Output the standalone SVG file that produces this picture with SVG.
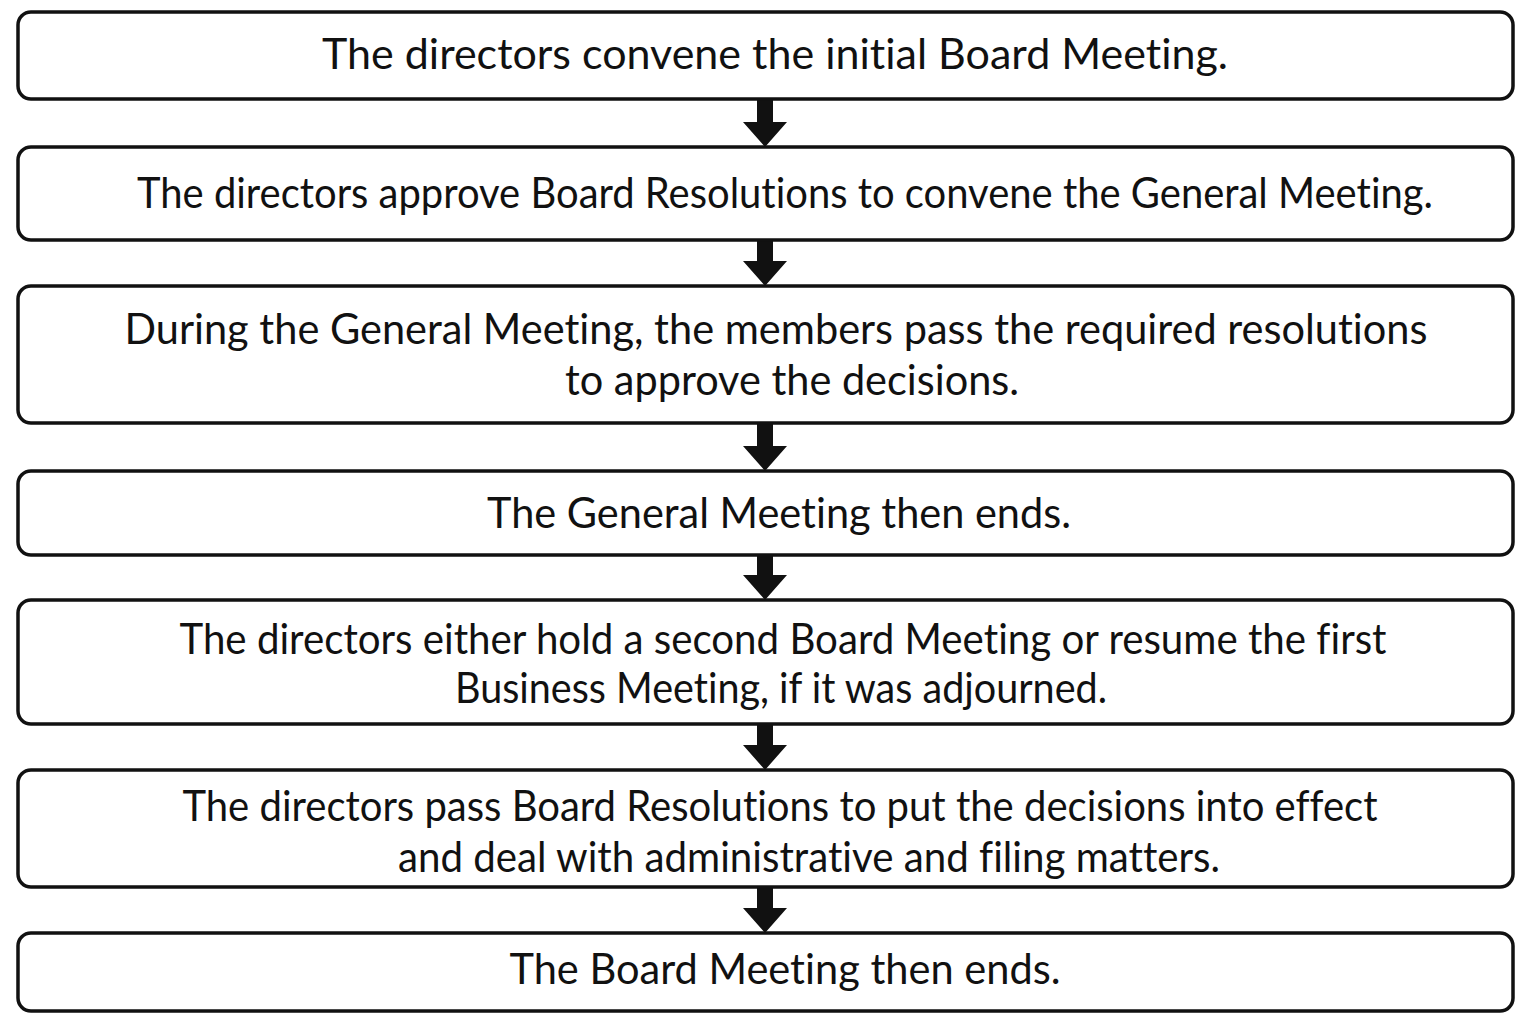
<svg xmlns="http://www.w3.org/2000/svg" width="1532" height="1024" viewBox="0 0 1532 1024">
<style>
.box{fill:#fff;stroke:#111;stroke-width:3.5}
.t{font-family:Lato,"Noto Sans",sans-serif;font-size:42px;fill:#111;text-anchor:middle;font-variant-ligatures:none;font-feature-settings:"liga" 0,"clig" 0,"dlig" 0}
.arr{fill:#111;stroke:none}
</style>
<rect x="0" y="0" width="1532" height="1024" fill="#fff"/>
<g id="connectors">
<path class="arr" d="M757,99 H773 V122 H787 L765,147 L743,122 H757 Z"/>
<path class="arr" d="M757,240 H773 V261 H787 L765,286 L743,261 H757 Z"/>
<path class="arr" d="M757,423 H773 V446 H787 L765,471 L743,446 H757 Z"/>
<path class="arr" d="M757,555 H773 V575 H787 L765,600 L743,575 H757 Z"/>
<path class="arr" d="M757,724 H773 V745 H787 L765,770 L743,745 H757 Z"/>
<path class="arr" d="M757,887 H773 V908 H787 L765,933 L743,908 H757 Z"/>
</g>
<g id="n1"><rect class="box" x="18" y="12" width="1495" height="87" rx="13"/>
<text class="t" x="775" y="69" textLength="906" lengthAdjust="spacingAndGlyphs">The directors convene the initial Board Meeting.</text></g>
<g id="n2"><rect class="box" x="18" y="147" width="1495" height="93" rx="13"/>
<text class="t" x="785" y="208" textLength="1296" lengthAdjust="spacingAndGlyphs">The directors approve Board Resolutions to convene the General Meeting.</text></g>
<g id="n3"><rect class="box" x="18" y="286" width="1495" height="137" rx="13"/>
<text class="t" x="776" y="344" textLength="1303" lengthAdjust="spacingAndGlyphs">During the General Meeting, the members pass the required resolutions</text>
<text class="t" x="792" y="395" textLength="454" lengthAdjust="spacingAndGlyphs">to approve the decisions.</text></g>
<g id="n4"><rect class="box" x="18" y="471" width="1495" height="84" rx="13"/>
<text class="t" x="779" y="528" textLength="584" lengthAdjust="spacingAndGlyphs">The General Meeting then ends.</text></g>
<g id="n5"><rect class="box" x="18" y="600" width="1495" height="124" rx="13"/>
<text class="t" x="783" y="654" textLength="1207" lengthAdjust="spacingAndGlyphs">The directors either hold a second Board Meeting or resume the first</text>
<text class="t" x="781" y="703" textLength="652" lengthAdjust="spacingAndGlyphs">Business Meeting, if it was adjourned.</text></g>
<g id="n6"><rect class="box" x="18" y="770" width="1495" height="117" rx="13"/>
<text class="t" x="780" y="821" textLength="1195" lengthAdjust="spacingAndGlyphs">The directors pass Board Resolutions to put the decisions into effect</text>
<text class="t" x="809" y="872" textLength="822" lengthAdjust="spacingAndGlyphs">and deal with administrative and filing matters.</text></g>
<g id="n7"><rect class="box" x="18" y="933" width="1495" height="78" rx="13"/>
<text class="t" x="785" y="984" textLength="551" lengthAdjust="spacingAndGlyphs">The Board Meeting then ends.</text></g>
</svg>
